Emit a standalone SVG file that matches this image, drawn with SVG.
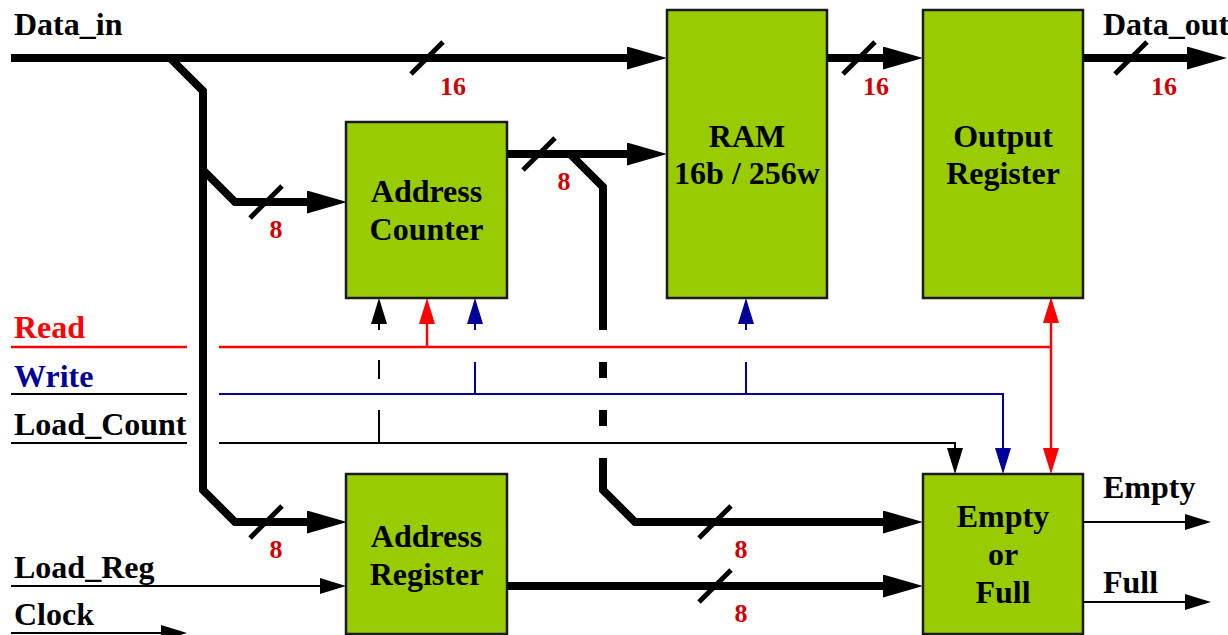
<svg xmlns="http://www.w3.org/2000/svg" width="1228" height="635" viewBox="0 0 1228 635">
<style>
text{font-family:"Liberation Serif","Times New Roman",serif;font-weight:bold;font-size:32px}
.lbl{fill:#000}
.num{fill:#cc0000;font-size:26px;text-anchor:middle}
.box{fill:#99cc00;stroke:#1a1a1a;stroke-width:2.5}
.bt{text-anchor:middle;fill:#000}
.bus{fill:none;stroke:#000;stroke-width:8}
.sl{stroke:#000;stroke-width:5}
.thin{fill:none;stroke:#000;stroke-width:2}
.red{fill:none;stroke:#ff0000;stroke-width:2.5}
.navy{fill:none;stroke:#000099;stroke-width:2}
</style>
<defs>
<marker id="ah" markerUnits="userSpaceOnUse" markerWidth="40" markerHeight="23" viewBox="0 0 40 23" refX="0" refY="11.5" orient="auto"><path d="M0,0 L40,11.5 L0,23 z" fill="#000"/></marker>
<marker id="atk" markerUnits="userSpaceOnUse" markerWidth="26" markerHeight="16" viewBox="0 0 26 16" refX="0" refY="8" orient="auto"><path d="M0,0 L26,8 L0,16 z" fill="#000"/></marker>
<marker id="atr" markerUnits="userSpaceOnUse" markerWidth="26" markerHeight="16" viewBox="0 0 26 16" refX="0" refY="8" orient="auto-start-reverse"><path d="M0,0 L26,8 L0,16 z" fill="#ff0000"/></marker>
<marker id="atn" markerUnits="userSpaceOnUse" markerWidth="26" markerHeight="16" viewBox="0 0 26 16" refX="0" refY="8" orient="auto"><path d="M0,0 L26,8 L0,16 z" fill="#000099"/></marker>
</defs>

<g id="connectors">
<path class="bus" d="M11,58 H627" marker-end="url(#ah)"/>
<path class="bus" d="M170,58 L203,91 V490 L235,522 H307" marker-end="url(#ah)"/>
<path class="bus" d="M203,170 L235,202 H307" marker-end="url(#ah)"/>
<path class="bus" d="M507,154 H627" marker-end="url(#ah)"/>
<path class="bus" d="M570,154 L603,187 V330 M603,362 V378 M603,410 V426"/>
<path class="bus" d="M603,458 V490 L635,522 H883" marker-end="url(#ah)"/>
<path class="bus" d="M827,58 H883" marker-end="url(#ah)"/>
<path class="bus" d="M1083,58 H1187" marker-end="url(#ah)"/>
<path class="bus" d="M507,586 H883" marker-end="url(#ah)"/>

<line class="sl" x1="411" y1="74" x2="443" y2="42"/>
<line class="sl" x1="250" y1="218" x2="282" y2="186"/>
<line class="sl" x1="523" y1="170" x2="555" y2="138"/>
<line class="sl" x1="843" y1="74" x2="875" y2="42"/>
<line class="sl" x1="1115" y1="74" x2="1147" y2="42"/>
<line class="sl" x1="250" y1="538" x2="282" y2="506"/>
<line class="sl" x1="699" y1="538" x2="731" y2="506"/>
<line class="sl" x1="699" y1="602" x2="731" y2="570"/>

<path class="red" d="M11,347 H187"/>
<path class="red" d="M219,347 H1051"/>
<path class="red" d="M427,347 V324" marker-end="url(#atr)"/>
<path class="red" d="M1051,323 V448" marker-start="url(#atr)" marker-end="url(#atr)"/>
<path class="thin" d="M11,394 H187"/>
<path class="navy" d="M219,394 H1003 V448" marker-end="url(#atn)"/>
<path class="navy" d="M475,394 V362 M475,330 V324" marker-end="url(#atn)"/>
<path class="navy" d="M746,394 V362 M746,330 V324" marker-end="url(#atn)"/>
<path class="thin" d="M11,443 H187"/>
<path class="thin" d="M219,443 H955 V448" marker-end="url(#atk)"/>
<path class="thin" d="M379,443 V410 M379,379 V360 M379,330 V324" marker-end="url(#atk)"/>
<path class="thin" d="M11,586 H320" marker-end="url(#atk)"/>
<path class="thin" d="M11,633 H161" marker-end="url(#atk)"/>
<path class="thin" d="M1083,522 H1185" marker-end="url(#atk)"/>
<path class="thin" d="M1083,602 H1185" marker-end="url(#atk)"/>
</g>

<g id="address_counter">
<rect class="box" x="346" y="122" width="161" height="176"/>
<text class="bt" x="426.5" y="202">Address</text>
<text class="bt" x="426.5" y="240">Counter</text>
</g>
<g id="ram">
<rect class="box" x="667" y="10" width="160" height="288"/>
<text class="bt" x="747" y="147">RAM</text>
<text class="bt" x="747" y="184">16b / 256w</text>
</g>
<g id="output_register">
<rect class="box" x="923" y="10" width="160" height="288"/>
<text class="bt" x="1003" y="147">Output</text>
<text class="bt" x="1003" y="184">Register</text>
</g>
<g id="address_register">
<rect class="box" x="346" y="474" width="161" height="160"/>
<text class="bt" x="426.5" y="547">Address</text>
<text class="bt" x="426.5" y="585">Register</text>
</g>
<g id="empty_or_full">
<rect class="box" x="923" y="474" width="160" height="160"/>
<text class="bt" x="1003" y="527">Empty</text>
<text class="bt" x="1003" y="565">or</text>
<text class="bt" x="1003" y="603">Full</text>
</g>

<g id="labels">
<text class="lbl" x="14" y="35">Data_in</text>
<text x="14" y="338" fill="#ff0000">Read</text>
<text x="14" y="387" fill="#000099">Write</text>
<text class="lbl" x="14" y="435">Load_Count</text>
<text class="lbl" x="14" y="578">Load_Reg</text>
<text class="lbl" x="14" y="625">Clock</text>
<text class="lbl" x="1103" y="35">Data_out</text>
<text class="lbl" x="1103" y="498">Empty</text>
<text class="lbl" x="1103" y="593">Full</text>
<text class="num" x="453" y="95">16</text>
<text class="num" x="276" y="238">8</text>
<text class="num" x="564" y="190">8</text>
<text class="num" x="876" y="95">16</text>
<text class="num" x="1164" y="95">16</text>
<text class="num" x="276" y="558">8</text>
<text class="num" x="741" y="558">8</text>
<text class="num" x="741" y="622">8</text>
</g>
</svg>
